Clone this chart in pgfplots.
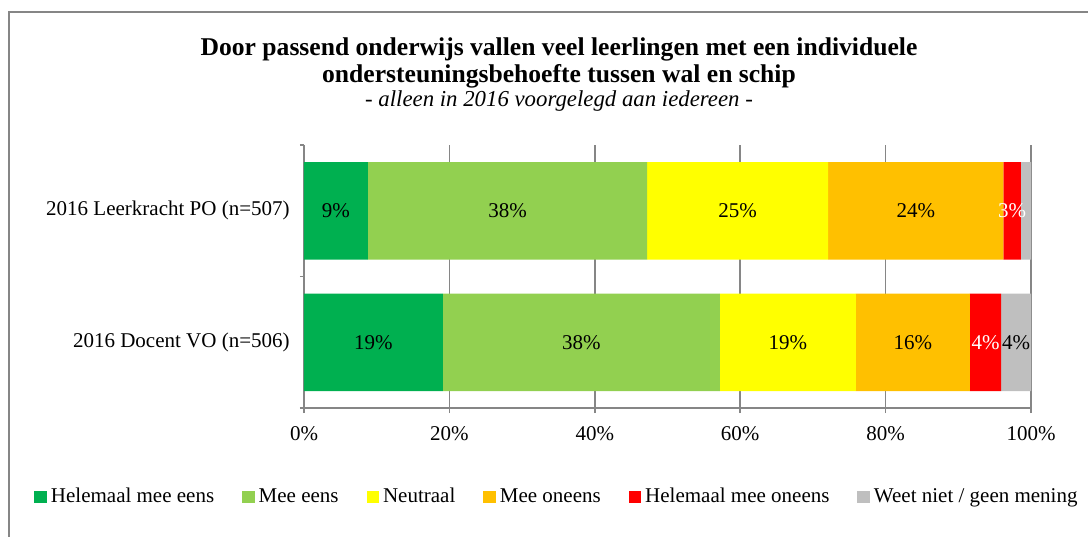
\documentclass[border=0pt]{standalone}
\usepackage{pgfplots}
\pgfplotsset{compat=1.18}
\usepackage{fontspec}
\setmainfont{Liberation Serif}
\definecolor{cA}{HTML}{00B050}
\definecolor{cB}{HTML}{92D050}
\definecolor{cC}{HTML}{FFFF00}
\definecolor{cD}{HTML}{FFC000}
\definecolor{cE}{HTML}{FF0000}
\definecolor{cF}{HTML}{BFBFBF}
\definecolor{axgray}{HTML}{868686}
\begin{document}
\begin{tikzpicture}
\useasboundingbox (0,0) rectangle (544pt,-268pt);
\draw[color=axgray, line width=0.75pt] (4.5pt,-270pt) -- (4.5pt,-6pt) -- (546pt,-6pt);
\node[font=\bfseries\fontsize{12.8}{14}\selectfont, anchor=base, inner sep=0pt] at (279.5pt,-27.5pt) {Door passend onderwijs vallen veel leerlingen met een individuele};
\node[font=\bfseries\fontsize{12.8}{14}\selectfont, anchor=base, inner sep=0pt] at (279.5pt,-41pt) {ondersteuningsbehoefte tussen wal en schip};
\node[font=\itshape\fontsize{11.4}{13}\selectfont, anchor=base, inner sep=0pt] at (279.5pt,-53pt) {- alleen in 2016 voorgelegd aan iedereen -};
\begin{axis}[
  at={(152pt,-204pt)}, anchor=south west,
  scale only axis, width=363.5pt, height=131.5pt,
  xbar stacked, bar width=48.75pt,
  xmin=0, xmax=100, ymin=-0.5, ymax=1.5,
  xtick={0,20,...,100},
  xticklabel={\pgfmathprintnumber{\tick}\%},
  /pgf/number format/assume math mode=true,
  ytick={0,1},
  yticklabels={2016 Docent VO (n=506), 2016 Leerkracht PO (n=507)},
  minor ytick={-0.5,0.5,1.5},
  axis x line*=bottom, axis y line*=left,
  axis line style={draw=axgray, line width=0.75pt},
  tick align=outside, major tick length=2.5pt, minor tick length=2pt,
  major x tick style={draw=axgray, line width=0.75pt},
  major y tick style={draw=none},
  minor y tick style={draw=axgray, line width=0.75pt},
  xmajorgrids, ymajorgrids=false,
  grid style={axgray, line width=0.75pt},
  tick label style={font=\fontsize{10.5}{12}\selectfont},
  xticklabel style={inner sep=0pt, yshift=-6.7pt},
  yticklabel style={inner sep=0pt, xshift=-4.5pt},
  point meta=explicit symbolic,
  nodes near coords={\pgfplotspointmeta},
  every node near coord/.append style={anchor=center, font=\fontsize{10.5}{12}\selectfont, black},
  legend image code/.code={\fill[#1] (0pt,-3.125pt) rectangle (6.25pt,3.125pt);},
  legend style={draw=none, at={(0.3494,-0.3384)}, anchor=center, legend columns=6,
     font=\fontsize{10.5}{12}\selectfont,
     /tikz/every even column/.append style={column sep=12pt}},
]
\addplot[fill=cA, draw=none] coordinates {(8.8,1)[9\%] (19.1,0)[19\%]};
\addplot[fill=cB, draw=none] coordinates {(38.4,1)[38\%] (38.1,0)[38\%]};
\addplot[fill=cC, draw=none] coordinates {(24.9,1)[25\%] (18.7,0)[19\%]};
\addplot[fill=cD, draw=none] coordinates {(24.1,1)[24\%] (15.7,0)[16\%]};
\addplot[fill=cE, draw=none, every node near coord/.append style={white}] coordinates {(2.4,1)[3\%] (4.3,0)[4\%]};
\addplot[fill=cF, draw=none] coordinates {(1.4,1)[{}] (4.1,0)[4\%]};
\legend{Helemaal mee eens, Mee eens, Neutraal, Mee oneens, Helemaal mee oneens, Weet niet / geen mening}
\end{axis}
\end{tikzpicture}
\end{document}
